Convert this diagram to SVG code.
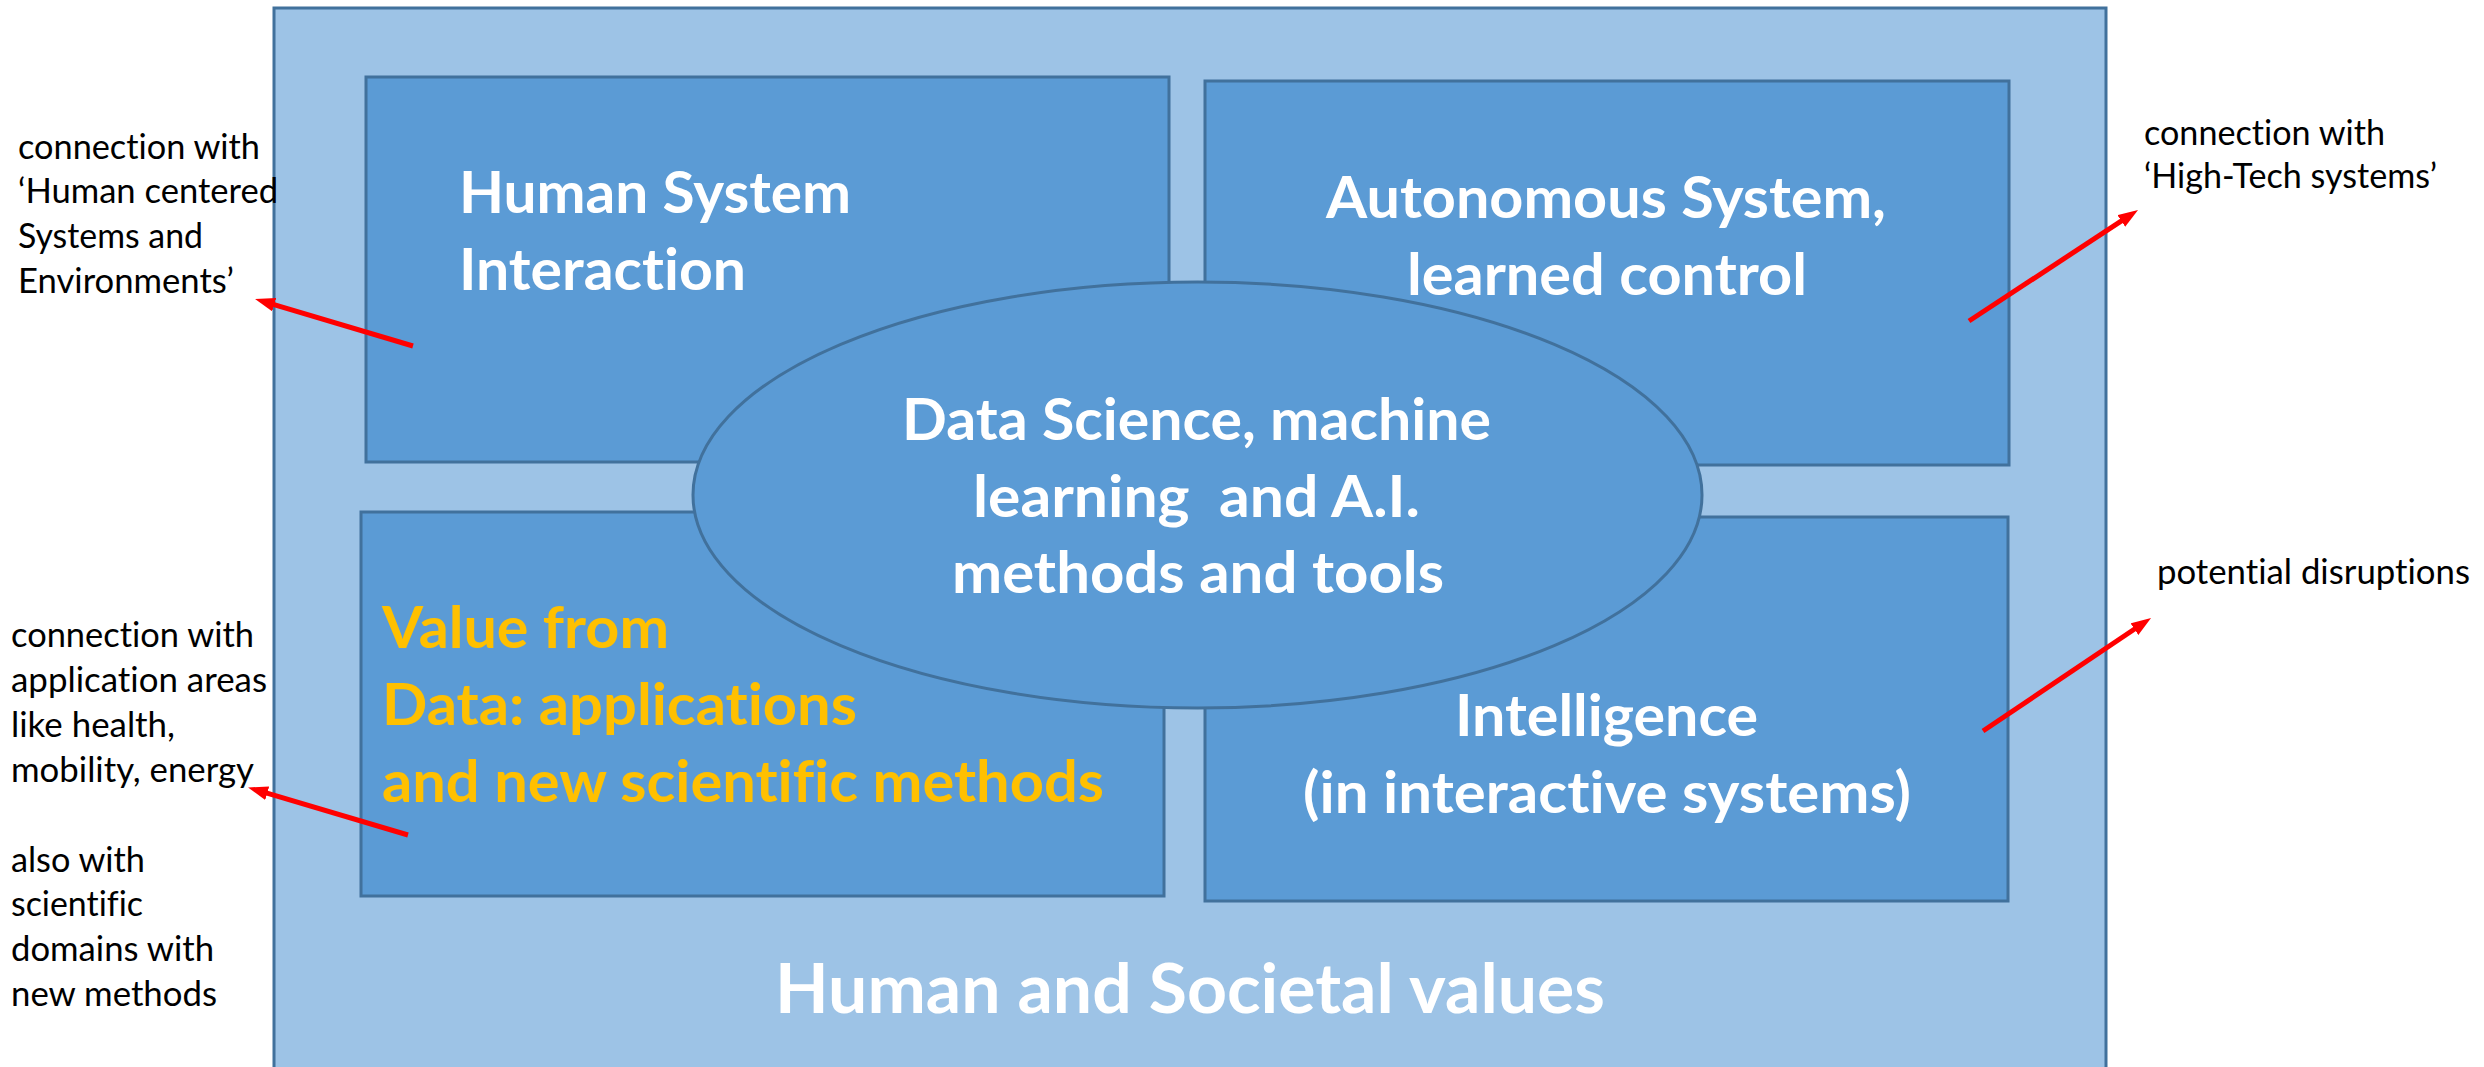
<svg xmlns="http://www.w3.org/2000/svg" width="2484" height="1067" viewBox="0 0 2484 1067">
  <style>
    .frame { fill: #9dc3e6; stroke: #41719c; stroke-width: 3; }
    .box { fill: #5b9bd5; stroke: #41719c; stroke-width: 3; }
    text { font-variant-ligatures: none; font-feature-settings: "liga" 0, "dlig" 0; }
    .head { font-family: Lato, "Open Sans", sans-serif; font-weight: 700; font-size: 57px; fill: #ffffff; white-space: pre; }
    .gold { fill: #ffc000; }
    .big { font-size: 69px; }
    .note { font-family: Lato, "Open Sans", sans-serif; font-size: 34px; fill: #000000; }
    .arrow { stroke: #ff0000; stroke-width: 5; fill: none; marker-end: url(#redHead); }
  </style>
  <defs>
    <marker id="redHead" markerUnits="userSpaceOnUse" markerWidth="22" markerHeight="16" refX="2" refY="7" orient="auto">
      <path d="M0,0 L20,7 L0,14 z" fill="#ff0000"/>
    </marker>
  </defs>

  <rect width="2484" height="1067" fill="#ffffff"/>

  <!-- outer frame: human and societal values -->
  <g id="societal">
    <rect class="frame" x="274" y="8" width="1832" height="1080"/>
    <text class="head big" x="775" y="1013" textLength="830" lengthAdjust="spacingAndGlyphs">Human and Societal values</text>
  </g>

  <g id="human-system">
    <rect class="box" x="366" y="77" width="803" height="385"/>
    <text class="head" x="459" y="213" textLength="392" lengthAdjust="spacingAndGlyphs">Human System</text>
    <text class="head" x="459" y="290" textLength="287" lengthAdjust="spacingAndGlyphs">Interaction</text>
  </g>

  <g id="autonomous">
    <rect class="box" x="1205" y="81" width="804" height="384"/>
    <text class="head" x="1326" y="218" textLength="560" lengthAdjust="spacingAndGlyphs">Autonomous System,</text>
    <text class="head" x="1407" y="295" textLength="400" lengthAdjust="spacingAndGlyphs">learned control</text>
  </g>

  <g id="value-from-data">
    <rect class="box" x="361" y="512" width="803" height="384"/>
    <text class="head gold" x="382" y="648" textLength="287" lengthAdjust="spacingAndGlyphs">Value from</text>
    <text class="head gold" x="382" y="725" textLength="475" lengthAdjust="spacingAndGlyphs">Data: applications</text>
    <text class="head gold" x="382" y="802" textLength="722" lengthAdjust="spacingAndGlyphs">and new scientific methods</text>
  </g>

  <g id="intelligence">
    <rect class="box" x="1205" y="517" width="803" height="384"/>
    <text class="head" x="1455" y="736" textLength="303" lengthAdjust="spacingAndGlyphs">Intelligence</text>
    <text class="head" x="1303" y="813" textLength="608" lengthAdjust="spacingAndGlyphs">(in interactive systems)</text>
  </g>

  <g id="data-science">
    <ellipse class="box" cx="1197.5" cy="495" rx="504.5" ry="213"/>
    <text class="head" x="902" y="440" textLength="589" lengthAdjust="spacingAndGlyphs">Data Science, machine</text>
    <text class="head" x="973" y="517" textLength="447" lengthAdjust="spacingAndGlyphs">learning  and A.I.</text>
    <text class="head" x="952" y="593" textLength="492" lengthAdjust="spacingAndGlyphs">methods and tools</text>
  </g>

  <!-- side notes -->
  <g id="note-human-centered">
    <text class="note" x="18" y="159" textLength="242" lengthAdjust="spacingAndGlyphs">connection with</text>
    <text class="note" x="18" y="203" textLength="260" lengthAdjust="spacingAndGlyphs">‘Human centered</text>
    <text class="note" x="18" y="248" textLength="185" lengthAdjust="spacingAndGlyphs">Systems and</text>
    <text class="note" x="18" y="293" textLength="216" lengthAdjust="spacingAndGlyphs">Environments’</text>
  </g>

  <g id="note-applications">
    <text class="note" x="11" y="647" textLength="243" lengthAdjust="spacingAndGlyphs">connection with</text>
    <text class="note" x="11" y="692" textLength="256" lengthAdjust="spacingAndGlyphs">application areas</text>
    <text class="note" x="11" y="737" textLength="164" lengthAdjust="spacingAndGlyphs">like health,</text>
    <text class="note" x="11" y="782" textLength="243" lengthAdjust="spacingAndGlyphs">mobility, energy</text>
    <text class="note" x="11" y="872" textLength="134" lengthAdjust="spacingAndGlyphs">also with</text>
    <text class="note" x="11" y="916" textLength="132" lengthAdjust="spacingAndGlyphs">scientific</text>
    <text class="note" x="11" y="961" textLength="203" lengthAdjust="spacingAndGlyphs">domains with</text>
    <text class="note" x="11" y="1006" textLength="206" lengthAdjust="spacingAndGlyphs">new methods</text>
  </g>

  <g id="note-high-tech">
    <text class="note" x="2144" y="145" textLength="241" lengthAdjust="spacingAndGlyphs">connection with</text>
    <text class="note" x="2144" y="188" textLength="293" lengthAdjust="spacingAndGlyphs">‘High-Tech systems’</text>
  </g>

  <g id="note-disruptions">
    <text class="note" x="2157" y="584" textLength="313" lengthAdjust="spacingAndGlyphs">potential disruptions</text>
  </g>

  <!-- connectors -->
  <g id="connectors">
    <line class="arrow" x1="413" y1="346" x2="272.3" y2="304.1"/>
    <line class="arrow" x1="408" y1="835" x2="265.3" y2="792.6"/>
    <line class="arrow" x1="1969" y1="321" x2="2123" y2="219.9"/>
    <line class="arrow" x1="1983" y1="731" x2="2136.1" y2="628"/>
  </g>
</svg>
